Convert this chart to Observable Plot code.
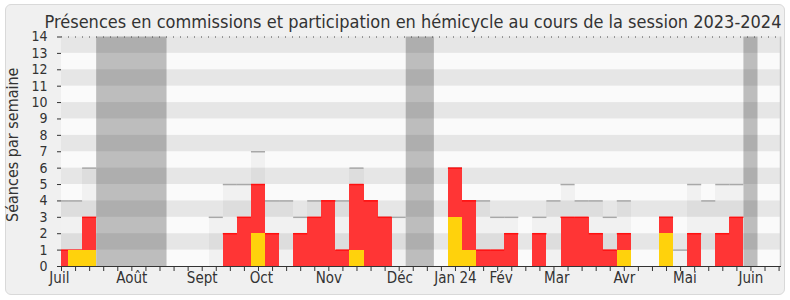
<!DOCTYPE html>
<html>
<head>
<meta charset="utf-8">
<script src="https://cdn.jsdelivr.net/npm/d3@7"></script>
<script src="https://cdn.jsdelivr.net/npm/@observablehq/plot@0.6"></script>
<style>
  html, body { margin: 0; padding: 0; background: #ffffff; }
  #wrap { position: relative; width: 790px; height: 300px; overflow: hidden; }
  #frame { position: absolute; left: 5px; top: 4px; width: 778px; height: 289px;
           border: 1px solid #d9d9d9; border-radius: 6px; background: #f0f0f0; }
  #title { position: relative; height: 20px; box-sizing: border-box; padding-left: 36px;
           width: 790px; text-align: center; white-space: nowrap;
           font-family: "DejaVu Sans Condensed", "Liberation Sans", sans-serif; font-size: 18px; line-height: 18px; color: #333; }
  #title span { position: relative; top: 13px; }
  #chart { position: relative; }
</style>
</head>
<body>
<div id="wrap">
  <div id="frame"></div>
  <div id="title"><span>Présences en commissions et participation en hémicycle au cours de la session 2023-2024</span></div>
  <div id="chart"></div>
</div>
<script>
// Weekly data, session 2023-2024 (week index 0 = first week of July 2023)
const weeks = d3.range(52);
const totalSeances = [4,4,6,0,0,0,0,0,0,0, 0,3,5,5,7,4,4,3,4,4, 4,6,4,3,3,0,0,0,6,4, 4,3,3,0,3,4,5,4,4,3, 4,0,0,3,1,5,4,5,5,0, 0,0];
const commission   = [1,1,3,0,0,0,0,0,0,0, 0,0,2,3,5,2,0,2,3,4, 1,5,4,3,0,0,0,0,6,4, 1,1,2,0,2,0,3,3,2,1, 2,0,0,3,0,2,0,2,3,0, 0,0];
const hemicycle    = [0,1,1,0,0,0,0,0,0,0, 0,0,0,0,2,0,0,0,0,0, 0,1,0,0,0,0,0,0,3,1, 0,0,0,0,0,0,0,0,0,0, 1,0,0,2,0,0,0,0,0,0, 0,0];
const vacances = [3,4,5,6,7,25,26,49];
const monthLabels = ["Juil","Août","Sept","Oct","Nov","Déc","Jan 24","Fév","Mar","Avr","Mai","Juin"];
const monthPos    = [-0.15, 5, 10, 14.2, 19, 24.05, 28, 31.25, 35.2, 40, 44.3, 49];
const yTicks = d3.range(0, 15);
const stripes = [1,3,5,7,9,11,13];

const XMIN = 0, XMAX = 51.1, YMAX = 14;
const clampX = v => Math.max(XMIN, Math.min(XMAX, v));
const data = weeks.map(w => ({w, g: totalSeances[w], r: commission[w], y: hemicycle[w]}));
const months = monthLabels.map((m, i) => ({m, p: monthPos[i]}));
// group consecutive vacation weeks into ranges
const vacRanges = [];
vacances.forEach(w => {
  const last = vacRanges[vacRanges.length - 1];
  if (last && last.end === w - 1) last.end = w; else vacRanges.push({start: w, end: w});
});
const FONT = '"DejaVu Sans Condensed", "Liberation Sans", sans-serif';

const chart = Plot.plot({
  width: 790,
  height: 280,
  marginLeft: 61,
  marginRight: 10,
  marginTop: 16.5,
  marginBottom: 34,
  style: {background: "transparent", fontFamily: FONT, fontSize: "14px", color: "#333"},
  x: {domain: [XMIN, XMAX], ticks: weeks, tickFormat: () => "", tickSize: 5, line: true, label: null},
  y: {domain: [0, YMAX], ticks: yTicks, tickSize: 4, tickPadding: 10, line: true, label: null},
  marks: [
    Plot.rect([0], {x1: () => XMIN, x2: () => XMAX, y1: () => 0, y2: () => YMAX, fill: "#fafafa"}),
    Plot.rect(vacRanges, {x1: d => clampX(d.start - 0.5), x2: d => clampX(d.end + 0.5), y1: () => 0, y2: () => YMAX, fill: "#bdbdbd"}),
    Plot.rect(stripes, {x1: () => XMIN, x2: () => XMAX, y1: d => d, y2: d => d + 1, fill: "#000", fillOpacity: 0.08}),
    Plot.rect(data.filter(d => d.g > 0), {x1: d => clampX(d.w - 0.5), x2: d => clampX(d.w + 0.5), y1: () => 0, y2: "g", fill: "#000", fillOpacity: 0.035, shapeRendering: "crispEdges"}),
    Plot.ruleY(data.filter(d => d.g > 0), {y: "g", x1: d => clampX(d.w - 0.5), x2: d => clampX(d.w + 0.5), stroke: "#a8a8a8", strokeWidth: 1.5}),
    Plot.rect(data.filter(d => d.r > 0), {x1: d => clampX(d.w - 0.5), x2: d => clampX(d.w + 0.5), y1: () => 0, y2: "r", fill: "#ff3535", shapeRendering: "crispEdges"}),
    Plot.ruleY(data.filter(d => d.r > 0), {y: "r", x1: d => clampX(d.w - 0.5), x2: d => clampX(d.w + 0.5), stroke: "#ff1010", strokeWidth: 1.5}),
    Plot.rect(data.filter(d => d.y > 0), {x1: d => clampX(d.w - 0.5), x2: d => clampX(d.w + 0.5), y1: () => 0, y2: "y", fill: "#ffd20c", shapeRendering: "crispEdges"}),
    Plot.ruleY([YMAX], {stroke: "#444", strokeDasharray: "1,6", strokeWidth: 1}),
    Plot.ruleX([XMAX], {stroke: "#c8c8c8", strokeWidth: 1.5}),
    Plot.text(months, {x: "p", y: () => 0, text: "m", dy: 11.5, fontSize: 15, fill: "#333"}),
    Plot.text(["Séances par semaine"], {frameAnchor: "left", textAnchor: "middle", text: d => d, rotate: -90, dx: -49, dy: -7, fontSize: 16, fill: "#333"})
  ]
});
document.getElementById("chart").appendChild(chart);
</script>
</body>
</html>
